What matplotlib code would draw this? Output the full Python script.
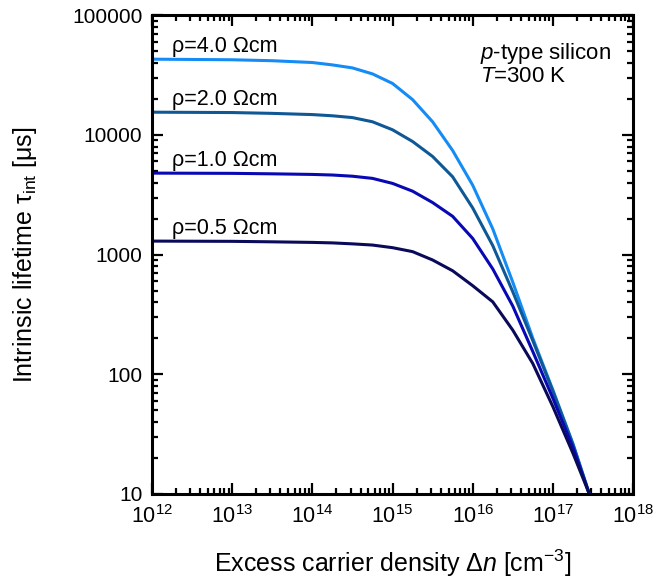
import numpy as np
import matplotlib
matplotlib.use('Agg')
import matplotlib.pyplot as plt

plt.rcParams['font.family'] = ['Liberation Sans', 'DejaVu Sans']
plt.rcParams['mathtext.fontset'] = 'custom'
plt.rcParams['mathtext.rm'] = 'Liberation Sans'
plt.rcParams['mathtext.it'] = 'Liberation Sans:italic'

# excess carrier density [cm^-3]
dn = [1e12, 1e13, 3.16e13, 1e14, 1.78e14, 3.16e14, 5.62e14, 1e15, 1.78e15,
      3.16e15, 5.62e15, 1e16, 1.78e16, 3.16e16, 5.62e16, 1e17, 1.78e17,
      2.85e17]

# intrinsic lifetime [us] for each base resistivity
tau_4p0 = [42950, 42460, 41690, 40270, 38460, 36310, 32360, 26920, 19720,
           12880, 7413, 3802, 1641, 589, 200, 74, 26.3, 10]
tau_2p0 = [15490, 15380, 15140, 14790, 14450, 13960, 12880, 11040, 8810,
           6610, 4470, 2455, 1189, 490, 191, 72.4, 26.0, 10]
tau_1p0 = [4797, 4775, 4732, 4677, 4624, 4519, 4335, 3936, 3388,
           2723, 2089, 1365, 759, 372, 155, 63.1, 24.5, 10]
tau_0p5 = [1297, 1291, 1279, 1265, 1253, 1230, 1202, 1143, 1059,
           902, 733, 550, 403, 234, 123, 53.7, 21.9, 10]

labels = ['ρ=4.0 Ωcm', 'ρ=2.0 Ωcm', 'ρ=1.0 Ωcm', 'ρ=0.5 Ωcm']
curves = [tau_4p0, tau_2p0, tau_1p0, tau_0p5]
colors = ['#158cf5', '#0f5896', '#0808b4', '#0a0a5a']

fig = plt.figure(figsize=(6.56, 5.86), dpi=100)
ax = fig.add_axes([0.2317, 0.157, 0.7333, 0.817])

for tau, lab, c in zip(curves, labels, colors):
    ax.plot(dn, tau, color=c, lw=2.2, solid_joinstyle='round')
    ax.annotate(lab, xy=(1.8e12, tau[0]), xytext=(0, 5),
                textcoords='offset points', va='baseline', ha='left',
                fontsize=15.5)

ax.text(0.682, 0.921, r'$p$-type silicon', transform=ax.transAxes,
        fontsize=16, va='center', ha='left')
ax.text(0.682, 0.872, r'$T$=300 K', transform=ax.transAxes,
        fontsize=16, va='center', ha='left')

ax.set_xscale('log')
ax.set_yscale('log')
ax.set_xlim(1e12, 1e18)
ax.set_ylim(10, 100000)

ax.set_yticks([10, 100, 1000, 10000, 100000])
ax.set_yticklabels(['10', '100', '1000', '10000', '100000'])
ax.set_xticks([10.0**k for k in range(12, 19)])
ax.set_xticklabels([r'$10^{%d}$' % k for k in range(12, 19)])

ax.tick_params(which='both', direction='in', top=True, right=True,
               labelsize=15, width=1.6)
ax.tick_params(axis='x', which='major', labelsize=15.5)
ax.tick_params(which='major', length=8)
ax.tick_params(which='minor', length=4.5)
ax.tick_params(axis='x', which='major', pad=8)
ax.tick_params(axis='y', which='major', pad=7)
for s in ax.spines.values():
    s.set_linewidth(2.2)

ax.set_xlabel(r'Excess carrier density Δ$n$ [cm$^{-3}$]', fontsize=18,
              labelpad=14)
ax.set_ylabel(r'Intrinsic lifetime τ$_{\rm int}$ [μs]', fontsize=18,
              labelpad=24)

fig.savefig('out.png', dpi=100)
plt.close(fig)
